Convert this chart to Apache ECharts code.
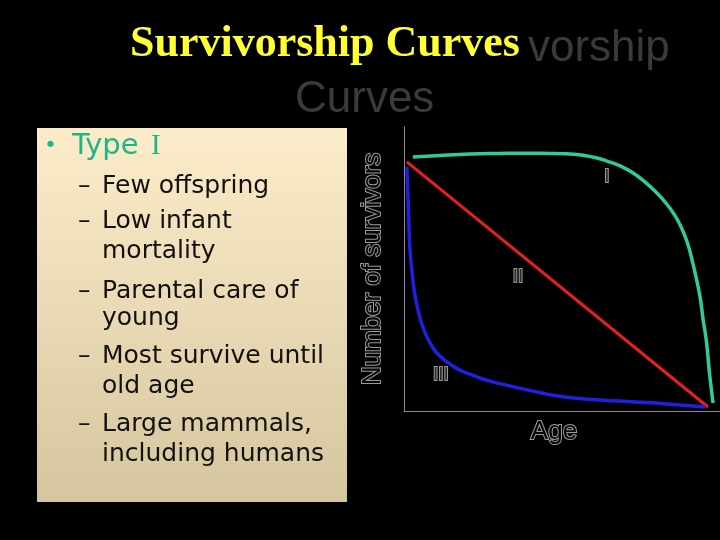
<!DOCTYPE html>
<html>
<head>
<meta charset="utf-8">
<script src="https://cdn.jsdelivr.net/npm/echarts@6/dist/echarts.min.js"></script>
<style>
html,body{margin:0;padding:0;background:#000;}
#chart{width:720px;height:540px;}
</style>
</head>
<body>
<div id="chart"></div>
<script>
// ---- data ----
var typeI = [[2.8,89.4],[11.4,90.0],[20.9,90.5],[30.4,90.7],[43.0,90.8],[52.5,90.5],[57.0,90.0],[61.1,89.1],[64.2,88.0],[68.4,86.3],[72.5,83.8],[76.3,80.6],[79.7,77.1],[82.9,73.2],[85.4,69.4],[87.7,64.8],[89.6,59.5],[91.1,53.5],[92.4,47.2],[93.7,40.1],[94.6,32.7],[95.6,25.4],[96.2,19.0],[96.8,12.0],[97.8,2.8]];
var typeII = [[0.9,87.7],[96.2,1.4]];
var typeIII = [[0.9,85.9],[1.3,74.3],[1.6,63.7],[1.9,56.7],[2.5,49.6],[3.2,42.6],[4.1,37.3],[5.1,32.7],[6.6,27.8],[9.2,22.2],[11.7,19.0],[14.6,16.5],[17.7,14.4],[21.5,12.7],[25.9,10.9],[32.0,9.2],[40.8,7.0],[50.9,4.9],[62.0,3.9],[73.1,3.2],[83.2,2.5],[95.3,1.4]];
var curveLabels = [['I',64.2,82.4],['II',36.1,47.2],['III',11.7,12.7]];
var xName = 'Age';
var yName = 'Number of survivors';
var titleText = 'Survivorship Curves';
var ghostLine1 = 'vorship';
var ghostLine2 = 'Curves';
var bulletHead = 'Type ';
var bulletHeadNum = 'I';
var bulletLines = [
  ['–','Few offspring'],
  ['–','Low infant'],
  ['','mortality'],
  ['–','Parental care of'],
  ['','young'],
  ['–','Most survive until'],
  ['','old age'],
  ['–','Large mammals,'],
  ['','including humans']
];
var bulletBaselines = [195,230,260,300,327,365,395,433,463];

var chart = echarts.init(document.getElementById('chart'));

var graphics = [];
graphics.push({type:'text', z:1, style:{text:ghostLine1, x:528, y:65-16, font:'44px "Liberation Sans"', fill:'#3a3a3a', textVerticalAlign:'middle', shadowColor:'#161616', shadowOffsetX:2, shadowOffsetY:2, shadowBlur:0}});
graphics.push({type:'text', z:1, style:{text:ghostLine2, x:295, y:116-16, font:'44px "Liberation Sans"', fill:'#3a3a3a', textVerticalAlign:'middle', shadowColor:'#161616', shadowOffsetX:2, shadowOffsetY:2, shadowBlur:0}});
graphics.push({type:'text', z:5, style:{text:titleText, x:130, y:60-15, font:'bold 44px "Liberation Serif"', fill:'#ffff33', textVerticalAlign:'middle', shadowColor:'#666666', shadowOffsetX:3, shadowOffsetY:3, shadowBlur:0}});
graphics.push({type:'rect', z:2, shape:{x:37, y:128, width:310, height:374},
  style:{fill:new echarts.graphic.LinearGradient(0,0,0,1,[{offset:0,color:'#fdecc9'},{offset:1,color:'#d5c69f'}])}});
graphics.push({type:'text', z:3, style:{text:'•', x:44, y:146, font:'22px "DejaVu Sans"', fill:'#1fb58a', textVerticalAlign:'middle'}});
graphics.push({type:'text', z:3, style:{text:bulletHead, x:72, y:146, font:'29px "DejaVu Sans"', fill:'#1fb58a', textVerticalAlign:'middle'}});
graphics.push({type:'text', z:3, style:{text:bulletHeadNum, x:151, y:146, font:'29px "Liberation Serif"', fill:'#1fb58a', textVerticalAlign:'middle'}});
bulletLines.forEach(function(l, i){
  var yb = bulletBaselines[i] - 9;
  if (l[0]) graphics.push({type:'text', z:3, style:{text:l[0], x:78, y:yb, font:'25px "DejaVu Sans"', fill:'#111', textVerticalAlign:'middle'}});
  graphics.push({type:'text', z:3, style:{text:l[1], x:102, y:yb, font:'25px "DejaVu Sans"', fill:'#111', textVerticalAlign:'middle'}});
});

var outlineName = {fontFamily:'Liberation Sans', fontSize:26, color:'#050505', textBorderColor:'#9a9a9a', textBorderWidth:2};

chart.setOption({
  backgroundColor:'#000',
  animation:false,
  graphic: graphics,
  grid:{left:404, top:127, right:0, bottom:129},
  xAxis:{type:'value', min:0, max:100, name:xName, nameLocation:'middle', nameGap:8,
    nameTextStyle:Object.assign({padding:[0,16,0,0]}, outlineName),
    axisLine:{show:true, lineStyle:{color:'#8c8c8c', width:1}}, axisTick:{show:false}, axisLabel:{show:false}, splitLine:{show:false}},
  yAxis:{type:'value', min:0, max:100, name:yName, nameLocation:'middle', nameGap:18,
    nameTextStyle:outlineName,
    axisLine:{show:true, lineStyle:{color:'#8c8c8c', width:1}}, axisTick:{show:false}, axisLabel:{show:false}, splitLine:{show:false}},
  series:[
    {type:'line', data:typeI, smooth:0.5, symbol:'none', lineStyle:{color:'#33c9a0', width:3.5}},
    {type:'line', data:typeII, symbol:'none', lineStyle:{color:'#e8201c', width:3}},
    {type:'line', data:typeIII, smooth:0.5, symbol:'none', lineStyle:{color:'#2020e0', width:3.5}},
    {type:'scatter', data:curveLabels.map(function(c){return {name:c[0], value:[c[1],c[2]]};}),
      symbolSize:2, itemStyle:{color:'rgba(0,0,0,0)'},
      label:{show:true, position:'inside', formatter:'{b}', fontFamily:'Liberation Sans', fontSize:19, color:'#111', textBorderColor:'#bdbdbd', textBorderWidth:2}}
  ]
});
</script>
</body>
</html>
